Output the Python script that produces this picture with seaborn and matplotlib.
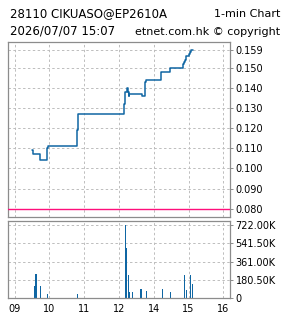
import numpy as np
import matplotlib
matplotlib.use("Agg")
import matplotlib.pyplot as plt
import seaborn as sns

# price steps (time, price from that minute on)
price_times = ["09:30", "09:32", "09:43", "09:55", "09:57", "10:47", "10:49",
               "13:09", "13:11", "13:13", "13:15", "13:17", "13:18", "13:39",
               "13:45", "13:47", "14:13", "14:14", "14:28", "14:29", "14:51",
               "14:52", "14:54", "14:55", "15:00", "15:02", "15:05", "15:07"]
prices = [0.109, 0.107, 0.104, 0.110, 0.111, 0.119, 0.127,
          0.132, 0.138, 0.140, 0.138, 0.136, 0.137, 0.136,
          0.143, 0.144, 0.148, 0.148, 0.150, 0.150, 0.152,
          0.153, 0.154, 0.156, 0.157, 0.158, 0.159, 0.159]

# volume per minute
vol_times = ["09:34", "09:37", "09:44", "09:57", "10:48", "13:11", "13:13",
             "13:16", "13:18", "13:23", "13:38", "13:47", "13:48", "14:15",
             "14:29", "14:53", "14:56", "15:03", "15:07"]
volumes = [120e3, 242e3, 116e3, 43e3, 43e3, 722e3, 493e3,
           225e3, 56e3, 56e3, 86e3, 66e3, 66e3, 86e3,
           56e3, 225e3, 76e3, 225e3, 136e3]

ref_price = 0.080
price_ticks = [0.080, 0.090, 0.100, 0.110, 0.120, 0.130, 0.140, 0.150, 0.159]
hour_labels = ["09", "10", "11", "12", "14", "15", "16"]

title_left = "28110 CIKUASO@EP2610A"
title_right = "1-min Chart"
subtitle = "2026/07/07 15:07"
credit = "etnet.com.hk \u00a9 copyright"

BLUE = "#0f66a3"
FRAME = "#8c8c8c"
GRID = "#bdbdbd"


def tpos(t):
    # lunch break removed: 12:00 and 13:00 share one position
    h, m = map(int, t.split(":"))
    return (h - 9 if h < 13 else h - 10) + m / 60


sns.set_theme(style="white")
plt.rcParams["font.family"] = ["DejaVu Sans"]
plt.rcParams["text.color"] = "black"

W, H = 285, 318
fig = plt.figure(figsize=(W / 100, H / 100), dpi=100)
ax1 = fig.add_axes([8 / W, 1 - 217 / H, 222 / W, 175 / H])
ax2 = fig.add_axes([8 / W, 1 - 298 / H, 222 / W, 77 / H])

px = [tpos(t) for t in price_times]
sns.lineplot(x=px, y=prices, ax=ax1, color=BLUE, linewidth=1.1,
             drawstyle="steps-post", estimator=None, sort=False)
ax1.axhline(ref_price, color="#ff0f7b", linewidth=1.0, zorder=3)

vx = [tpos(t) for t in vol_times]
ax2.bar(vx, volumes, width=0.035, color=BLUE, linewidth=0)

xlim = (-0.19, 6.19)
for ax in (ax1, ax2):
    ax.set_xlim(*xlim)
    ax.set_xticks(range(len(hour_labels)))
    ax.yaxis.tick_right()
    ax.grid(True, color=GRID, linestyle=(0, (2.5, 2.5)), linewidth=0.7)
    for s in ax.spines.values():
        s.set_color(FRAME)
        s.set_linewidth(0.9)
    ax.tick_params(axis="both", length=2, width=0.7, color=FRAME,
                   labelsize=7, pad=2, labelcolor="black", direction="out")
    ax.set_xlabel("")
    ax.set_ylabel("")

ax1.set_ylim(0.0758, 0.1631)
ax1.set_yticks(price_ticks)
ax1.set_yticklabels([f"{v:.3f}" for v in price_ticks])
ax1.tick_params(axis="x", labelbottom=False)

vmax = max(volumes)
vol_ticks = np.linspace(0, vmax, 5)
ax2.set_ylim(0, vmax * 77 / 72.7)
ax2.set_yticks(vol_ticks)
ax2.set_yticklabels(["0" if v == 0 else f"{v / 1000:.2f}K" for v in vol_ticks])
ax2.set_xticklabels(hour_labels)

fig.text(10 / W, 1 - 17.3 / H, title_left, fontsize=8.5, va="baseline", ha="left", color="black")
fig.text(280 / W, 1 - 17.3 / H, title_right, fontsize=8, va="baseline", ha="right", color="black")
fig.text(10 / W, 1 - 35 / H, subtitle, fontsize=8.5, va="baseline", ha="left", color="black")
fig.text(280 / W, 1 - 35 / H, credit, fontsize=8, va="baseline", ha="right", color="black")

fig.savefig("out.png", dpi=100, facecolor="white")
